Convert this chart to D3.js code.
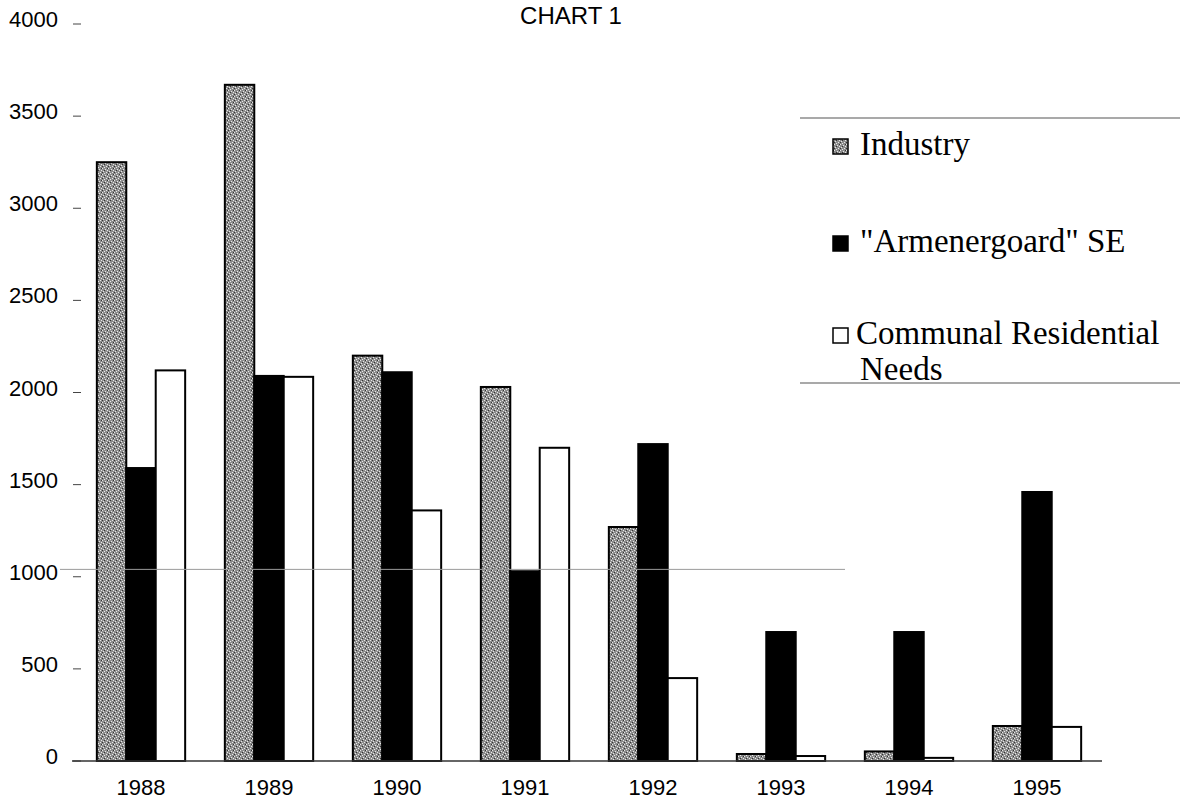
<!DOCTYPE html>
<html><head><meta charset="utf-8">
<script src="https://cdn.jsdelivr.net/npm/d3@7"></script>
<style>html,body{margin:0;padding:0;background:#fff;}svg{display:block;}</style>
</head><body>
<svg id="chart" width="1180" height="799"></svg>
<script>
const years = ["1988","1989","1990","1991","1992","1993","1994","1995"];
const seriesNames = ["Industry", "\"Armenergoard\" SE", "Communal Residential Needs"];
const industry = [3250, 3670, 2200, 2030, 1270, 38, 52, 190];
const armenergo = [1590, 2090, 2110, 1030, 1720, 700, 700, 1460];
const communal = [2120, 2085, 1360, 1700, 450, 27, 17, 185];
const yTicks = [0, 500, 1000, 1500, 2000, 2500, 3000, 3500, 4000];

const svg = d3.select("#chart");
const defs = svg.append("defs");
const pat = defs.append("pattern").attr("id","speckle").attr("patternUnits","userSpaceOnUse")
  .attr("width",6).attr("height",6);
pat.append("rect").attr("width",6).attr("height",6).attr("fill","#8c8c8c");
[[0,0],[3,1],[1,3],[4,4],[2,5],[5,2]].forEach(([a,b])=>pat.append("rect").attr("x",a).attr("y",b).attr("width",1).attr("height",1).attr("fill","#e8e8e8"));
[[2,2],[5,0],[0,4]].forEach(([a,b])=>pat.append("rect").attr("x",a).attr("y",b).attr("width",1).attr("height",1).attr("fill","#333"));

const y = d3.scaleLinear().domain([0,4000]).range([761,24]);
const x0 = d3.scaleBand().domain(years).range([77,1101]).paddingInner(0.31).paddingOuter(0.155);
const x1 = d3.scaleBand().domain([0,1,2]).range([0,x0.bandwidth()]);

const data = years.map((yr,i)=>({yr, vals:[industry[i],armenergo[i],communal[i]]}));
const fills = ["url(#speckle)","#000","#fff"];
const sans = "Liberation Sans, Arial, sans-serif";

// title
svg.append("text").attr("x",571).attr("y",24).attr("text-anchor","middle")
  .attr("font-family",sans).attr("font-size",24).text("CHART 1");

// y axis labels & ticks
const ya = svg.append("g");
yTicks.forEach(t=>{
  ya.append("line").attr("x1",73).attr("x2",81).attr("y1",y(t)).attr("y2",y(t)).attr("stroke","#444").attr("stroke-width",1);
  ya.append("text").attr("x",58).attr("y",y(t)+3).attr("text-anchor","end")
    .attr("font-family",sans).attr("font-size",22).text(t);
});

// bars
const g = svg.append("g");
data.forEach(d=>{
  d.vals.forEach((v,k)=>{
    g.append("rect")
      .attr("x",x0(d.yr)+x1(k)).attr("y",y(v))
      .attr("width",x1.bandwidth()).attr("height",y(0)-y(v))
      .attr("fill",fills[k]).attr("stroke","#000").attr("stroke-width",2);
  });
});

// faint scan line near 1000
svg.append("line").attr("x1",60).attr("x2",845).attr("y1",y(1040)).attr("y2",y(1040))
  .attr("stroke","#9a9a9a").attr("stroke-width",1);

// baseline
svg.append("line").attr("x1",72).attr("x2",1102).attr("y1",y(0)).attr("y2",y(0)).attr("stroke","#333").attr("stroke-width",1.5);

// x labels
years.forEach(yr=>{
  svg.append("text").attr("x",x0(yr)+x0.bandwidth()/2).attr("y",795).attr("text-anchor","middle")
    .attr("font-family",sans).attr("font-size",22).text(yr);
});

// legend
const lg = svg.append("g");
lg.append("line").attr("x1",800).attr("x2",1180).attr("y1",118).attr("y2",118).attr("stroke","#555").attr("stroke-width",1.2);
lg.append("line").attr("x1",800).attr("x2",1180).attr("y1",383).attr("y2",383).attr("stroke","#555").attr("stroke-width",1.2);
const legY = [155, 252, 344];
seriesNames.forEach((n,k)=>{
  lg.append("rect").attr("x",833).attr("y",legY[k]-16).attr("width",15).attr("height",15)
    .attr("fill",fills[k]).attr("stroke","#000").attr("stroke-width",1.5);
  const t = lg.append("text").attr("x",860).attr("y",legY[k])
    .attr("font-family","Liberation Serif, Times New Roman, serif").attr("font-size",33);
  if(k===2){
    t.append("tspan").attr("x",856).text("Communal Residential");
    t.append("tspan").attr("x",860).attr("dy",36).text("Needs");
  } else t.text(n);
});
</script>
</body></html>
